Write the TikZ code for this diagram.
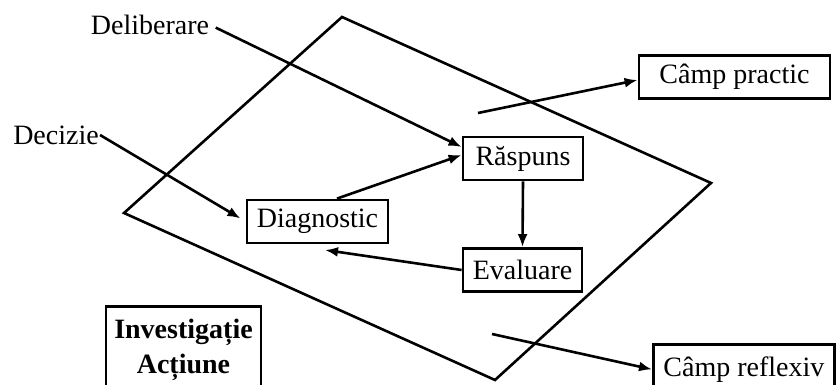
\documentclass[tikz,border=0pt]{standalone}
\usepackage{fontspec}
\setmainfont{Liberation Serif}
\usetikzlibrary{arrows.meta}
\begin{document}
\begin{tikzpicture}[x=1pt,y=-1pt,
  line width=2.6pt,
  txt/.style={font=\fontsize{28}{35}\selectfont},
  box/.style={txt, draw, line width=2.8pt, inner sep=0pt, minimum height=43pt},
  lbl/.style={txt, inner sep=0pt},
  arr/.style={-{Latex[length=13pt,width=10pt]}}]
\useasboundingbox (0,0) rectangle (836,385);
\clip (0,0) rectangle (836,385);

% the action plane
\draw[line join=miter] (342,17) -- (711,183) -- (495,380) -- (124,213) -- cycle;

% cycle boxes
\node[box, minimum width=120pt] (rasp) at (523,158.5) {Răspuns};
\node[box, minimum width=141pt] (diag) at (317.5,221.5) {Diagnostic};
\node[box, minimum width=119pt] (eval) at (522.5,270) {Evaluare};

% fields
\node[box, minimum width=191pt] (cp) at (734.5,77) {Câmp practic};
\node[box, minimum width=181pt, minimum height=50pt, anchor=north west] (cr) at (652,343) {Câmp reflexiv};
\node[box, minimum width=155pt, minimum height=86pt, anchor=north, align=center,
      font=\fontsize{28}{35}\selectfont\bfseries] (inv) at (183.5,305) {Investigație\\Acțiune};

% outside labels
\node[lbl] (delib) at (150,25) {Deliberare};
\node[lbl] (dec) at (56,135) {Decizie};

% points inside the plane
\coordinate (pin) at (478,113);
\coordinate (rin) at (492,334);
\coordinate (dgin) at (325,250);

% connectors
\draw[arr, shorten <=6pt] (delib.east) -- ([yshift=11.5pt]rasp.west);
\draw[arr, shorten >=6pt] (dec.east) -- (diag.west);
\draw[arr] ([xshift=19.5pt]diag.north) -- ([yshift=3.5pt]rasp.west);
\draw[arr] (rasp.south) -- (eval.north);
\draw[arr] (eval.west) -- (dgin);
\draw[arr] (pin) -- ([yshift=-3pt]cp.west);
\draw[arr] (rin) -- (cr.west);
\end{tikzpicture}
\end{document}
